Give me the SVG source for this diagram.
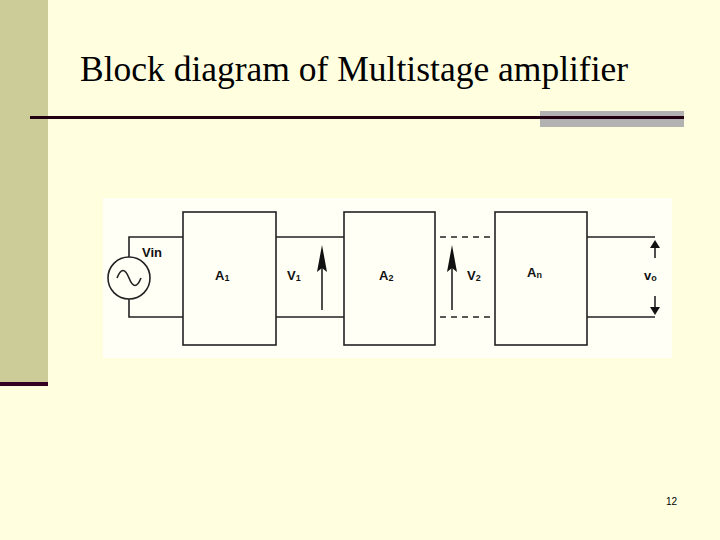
<svg xmlns="http://www.w3.org/2000/svg" width="720" height="540" viewBox="0 0 720 540">
<style>
.w{stroke:#222;stroke-width:1.6;fill:none}
.h{fill:#111}
.t{font-family:"Liberation Sans",Arial,sans-serif;font-weight:bold;font-size:13px;fill:#111}
.s{font-size:9px}
</style>
<rect width="720" height="540" fill="#ffffe0"/>
<rect x="0" y="0" width="48" height="385" fill="#cccc99"/>
<rect x="0" y="382" width="48" height="4" fill="#330022"/>
<rect x="540" y="111" width="144" height="16" fill="#b2b2b2"/>
<rect x="30" y="116" width="654" height="3" fill="#220011"/>
<text x="80" y="81" font-family="Liberation Serif,serif" font-size="35.5" fill="#000">Block diagram of Multistage amplifier</text>
<text x="677" y="505" font-family="Liberation Sans,sans-serif" font-size="10" text-anchor="end" fill="#000">12</text>
<rect x="103" y="198" width="569" height="160" fill="#fffff6"/>
<g id="connectors">
<path class="w" d="M129 257V237H183M129 299V317H183M276 237H344M276 317H344M587 237H655M587 317H655"/>
<path class="w" stroke-dasharray="6,5" d="M440 237H495M440 317H495"/>
<line class="w" x1="322" y1="310" x2="322" y2="258"/>
<path class="h" d="M322 245L327 272L322 268L317 272Z"/>
<line class="w" x1="452" y1="310" x2="452" y2="258"/>
<path class="h" d="M452 245L457 272L452 268L447 272Z"/>
<line class="w" x1="655" y1="258" x2="655" y2="246"/>
<path class="h" d="M655 240L660 248L650 248Z"/>
<line class="w" x1="655" y1="296" x2="655" y2="308"/>
<path class="h" d="M655 315L660 307L650 307Z"/>
</g>
<g id="source"><circle class="w" cx="129" cy="278" r="21"/><path class="w" d="M117 278C121 268 125 268 129 278S137 288 141 278"/><text class="t" x="142" y="257">Vin</text></g>
<g id="A1"><rect class="w" x="183" y="212" width="93" height="133"/><text class="t" x="215" y="280">A<tspan class="s" dy="1">1</tspan></text></g>
<g id="A2"><rect class="w" x="344" y="212" width="91" height="133"/><text class="t" x="379" y="280">A<tspan class="s" dy="1">2</tspan></text></g>
<g id="An"><rect class="w" x="495" y="212" width="92" height="133"/><text class="t" x="527" y="277">A<tspan class="s" dy="1">n</tspan></text></g>
<text class="t" x="287" y="280">V<tspan class="s" dy="1">1</tspan></text>
<text class="t" x="467" y="280">V<tspan class="s" dy="1">2</tspan></text>
<text class="t" x="644" y="280">v<tspan class="s" dy="1">o</tspan></text>
</svg>
